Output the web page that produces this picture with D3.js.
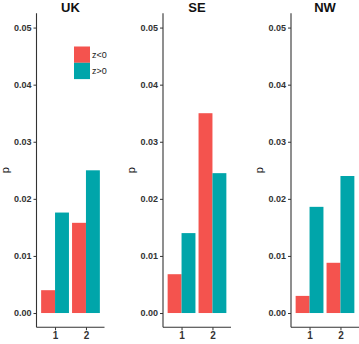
<!DOCTYPE html>
<html>
<head>
<meta charset="utf-8">
<script src="https://cdn.jsdelivr.net/npm/d3@7"></script>
<style>
  body { margin: 0; background: #fff; }
  text { font-family: "Liberation Sans", Arial, sans-serif; }
</style>
</head>
<body>
<svg id="chart" width="359" height="344"></svg>
<script>
// data
var regions = ["UK", "SE", "NW"];
var groups = ["1", "2"];
var signs = ["z<0", "z>0"];
var negVals = [[0.0040, 0.0158], [0.0068, 0.0350], [0.0030, 0.0088]];
var posVals = [[0.0176, 0.0250], [0.0140, 0.0245], [0.0186, 0.0240]];
var yTicks = [0, 0.01, 0.02, 0.03, 0.04, 0.05];

var colors = { "z<0": "#F4534E", "z>0": "#00A5AA" };

var svg = d3.select("#chart");

// panel left edges (where the y axis line sits)
var panelX = [36.5, 163, 291];
var plotW = 68;
var plotTop = 13.3, plotBottom = 327.3;

var y = d3.scaleLinear().domain([-0.0025, 0.0525]).range([plotBottom, plotTop]);

regions.forEach(function(reg, i) {
  var g = svg.append("g").attr("transform", "translate(" + panelX[i] + ",0)");

  // ggplot-style discrete expansion: 0.6 units each side
  var x = d3.scalePoint().domain(groups).range([0, plotW]).padding(0.6);
  var step = x.step();
  var sub = d3.scaleBand().domain(signs).range([-step * 0.45, step * 0.45]);

  var rows = [];
  groups.forEach(function(gr, j) {
    rows.push({ g: gr, s: "z<0", v: negVals[i][j] });
    rows.push({ g: gr, s: "z>0", v: posVals[i][j] });
  });

  g.selectAll("rect.bar")
    .data(rows)
    .enter()
    .append("rect")
    .attr("class", "bar")
    .attr("x", function(d) { return x(d.g) + sub(d.s); })
    .attr("width", sub.bandwidth())
    .attr("y", function(d) { return y(d.v); })
    .attr("height", function(d) { return y(0) - y(d.v); })
    .attr("fill", function(d) { return colors[d.s]; });

  // y axis
  var yAxis = d3.axisLeft(y).tickValues(yTicks).tickFormat(d3.format(".2f")).tickSize(3).tickPadding(2);
  var ya = g.append("g").call(yAxis);
  ya.select(".domain").remove();
  ya.selectAll("line").attr("stroke", "#333");
  ya.selectAll("text").attr("fill", "#333").style("font-size", "9px").style("font-weight", "bold");

  // x axis
  var xAxis = d3.axisBottom(x).tickSize(3).tickPadding(2);
  var xa = g.append("g").attr("transform", "translate(0," + plotBottom + ")").call(xAxis);
  xa.select(".domain").remove();
  xa.selectAll("line").attr("stroke", "#333");
  xa.selectAll("text").attr("fill", "#333").style("font-size", "10px").style("font-weight", "bold");

  // axis lines
  g.append("line").attr("x1", 0).attr("x2", 0).attr("y1", plotTop).attr("y2", plotBottom)
    .attr("stroke", "#333").attr("stroke-width", 1.1);
  g.append("line").attr("x1", 0).attr("x2", plotW).attr("y1", plotBottom).attr("y2", plotBottom)
    .attr("stroke", "#333").attr("stroke-width", 1.1);

  // title
  g.append("text")
    .attr("x", plotW / 2)
    .attr("y", 12)
    .attr("text-anchor", "middle")
    .style("font-size", "13px")
    .style("font-weight", "bold")
    .attr("fill", "#111")
    .text(reg);

  // y label
  g.append("text")
    .attr("transform", "translate(-28," + ((plotTop + plotBottom) / 2) + ") rotate(-90)")
    .attr("text-anchor", "middle")
    .style("font-size", "11px")
    .attr("fill", "#111")
    .text("p");
});

// legend inside first panel
var leg = svg.append("g").attr("transform", "translate(74,46.5)");
signs.forEach(function(s, k) {
  leg.append("rect")
    .attr("x", 0).attr("y", k * 16.3)
    .attr("width", 16).attr("height", 16.3)
    .attr("fill", colors[s]);
  leg.append("text")
    .attr("x", 18).attr("y", k * 16.3 + 11.5)
    .style("font-size", "9px")
    .attr("fill", "#222")
    .text(s);
});
</script>
</body>
</html>
